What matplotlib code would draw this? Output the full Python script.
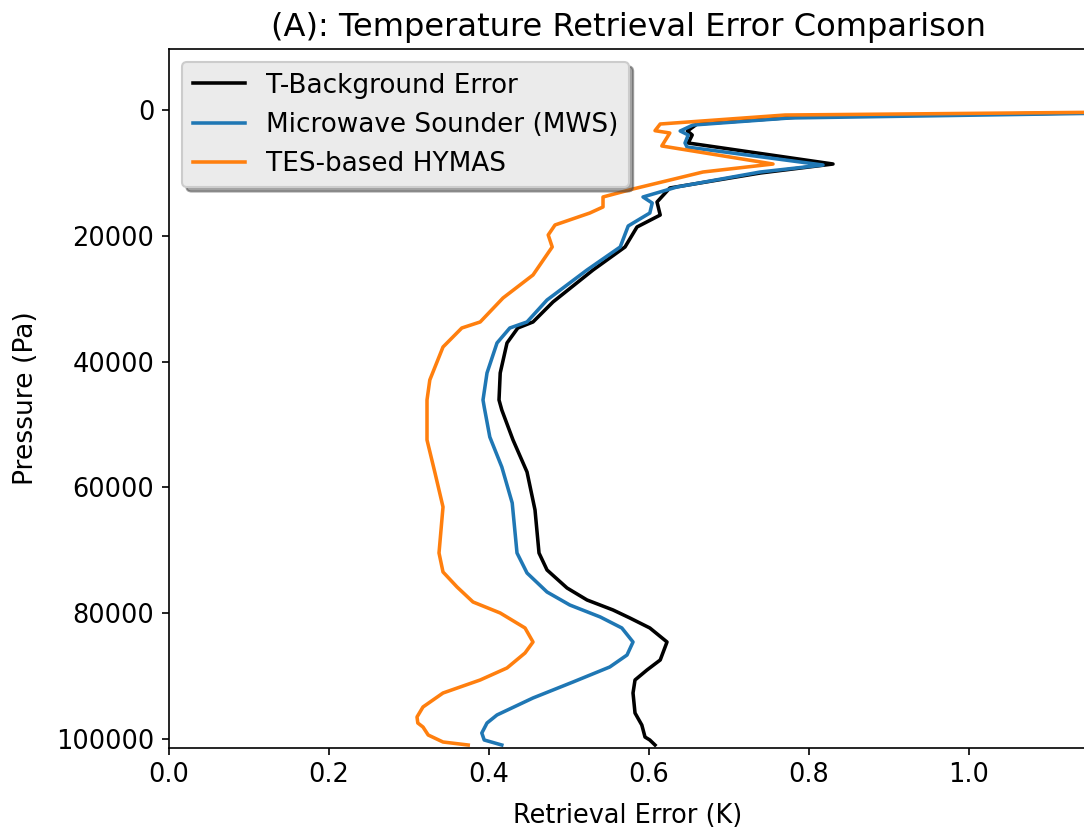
import matplotlib
matplotlib.use("Agg")
import matplotlib.pyplot as plt

# ==========================
# DATA
# ==========================
# T-Background Error
bg_pressure = [150, 1000, 2230, 3340, 3975, 5250, 8590, 10020, 12400, 14630,
               16700, 18600, 21780, 25440, 30520, 33700, 34660, 37040, 41810,
               46100, 47700, 52460, 57550, 63590, 70430, 73130, 75990, 77900,
               79490, 80760, 82350, 84580, 87440, 89030, 90620, 92690, 95870,
               97780, 99690, 100160, 100960]
bg_error = [1.35, 0.80, 0.66, 0.648, 0.654, 0.649, 0.83, 0.739, 0.626, 0.61,
            0.614, 0.585, 0.57, 0.53, 0.48, 0.455, 0.436, 0.4225, 0.414,
            0.4125, 0.416, 0.43, 0.4475, 0.4575, 0.4625, 0.4725, 0.4975, 0.5225,
            0.555, 0.576, 0.601, 0.6225, 0.614, 0.5975, 0.5825, 0.58, 0.5825,
            0.591, 0.595, 0.601, 0.6075]

# Microwave Sounder (MWS)
mws_pressure = [150, 1270, 2390, 3340, 3975, 5250, 5890, 8750, 9860, 12240,
                13830, 14790, 16380, 18440, 21780, 25440, 30210, 33700, 34660,
                37040, 41810, 46100, 47220, 51990, 56760, 62480, 70430, 73610,
                76630, 78700, 80600, 82350, 84580, 86650, 88550, 90940, 93480,
                96180, 97460, 99050, 100160, 100960]
mws_error = [1.35, 0.776, 0.655, 0.639, 0.649, 0.645, 0.6475, 0.8175, 0.739,
             0.635, 0.5925, 0.604, 0.601, 0.574, 0.564, 0.5225, 0.4725, 0.4475,
             0.426, 0.41, 0.3975, 0.3925, 0.394, 0.401, 0.416, 0.429, 0.435,
             0.4475, 0.4725, 0.501, 0.539, 0.566, 0.58, 0.5725, 0.551, 0.505,
             0.455, 0.41, 0.3975, 0.391, 0.394, 0.416]

# TES-based HYMAS
hymas_pressure = [150, 800, 2230, 3290, 3660, 5720, 8590, 9860, 12560, 13830,
                  15420, 16380, 18280, 19870, 21780, 26230, 29890, 33700, 34660,
                  37680, 42920, 46100, 52460, 57710, 63110, 70430, 73450, 75830,
                  78220, 79970, 82350, 84580, 86330, 88710, 90620, 92690, 94910,
                  96500, 97460, 98100, 99370, 100480, 100960]
hymas_error = [1.35, 0.77, 0.614, 0.6075, 0.626, 0.616, 0.755, 0.6675, 0.58,
               0.5425, 0.5425, 0.526, 0.4825, 0.474, 0.479, 0.455, 0.4175, 0.389,
               0.366, 0.3425, 0.326, 0.3225, 0.3225, 0.3325, 0.3425, 0.3375,
               0.3425, 0.36, 0.38, 0.414, 0.445, 0.455, 0.445, 0.4225, 0.389,
               0.3425, 0.3175, 0.31, 0.311, 0.3175, 0.324, 0.3425, 0.374]

# ==========================
# PLOT
# ==========================
fig = plt.figure(figsize=(1084 / 150, 830 / 150), dpi=150)
ax = fig.add_axes([0.1559, 0.0992, 0.8469, 0.8418])

lw = 1.7
ax.plot(bg_error, bg_pressure, color="black", lw=lw, label="T-Background Error")
ax.plot(mws_error, mws_pressure, color="#1f77b4", lw=lw, label="Microwave Sounder (MWS)")
ax.plot(hymas_error, hymas_pressure, color="#ff7f0e", lw=lw, label="TES-based HYMAS")

ax.set_xlim(0, 1.1475)
ax.set_ylim(101380, -9700)
ax.set_yticks([0, 20000, 40000, 60000, 80000, 100000])
ax.set_xticks([0.0, 0.2, 0.4, 0.6, 0.8, 1.0])
ax.tick_params(labelsize=12.3)

ax.set_xlabel("Retrieval Error (K)", fontsize=12.3, labelpad=7)
ax.set_ylabel("Pressure (Pa)", fontsize=12.8, labelpad=8)
ax.set_title("(A): Temperature Retrieval Error Comparison", fontsize=15.4)

leg = ax.legend(loc="upper left", shadow=True, fancybox=True, fontsize=12.6,
                facecolor="0.92", edgecolor="0.8", framealpha=1)

plt.savefig("out.png", dpi=150)
plt.close()
